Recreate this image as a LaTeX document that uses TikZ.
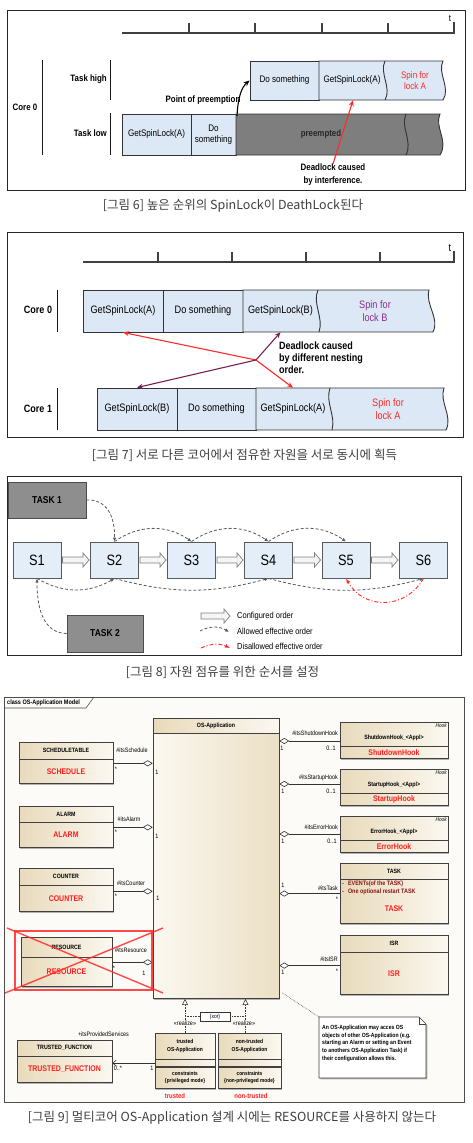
\documentclass[tikz,border=0pt]{standalone}
\usepackage{fontspec}
\setmainfont{Liberation Sans}
\newfontfamily\cond[FakeStretch=0.85]{Liberation Sans}
\newfontfamily\kr{Noto Sans CJK KR}
\usetikzlibrary{arrows.meta,positioning,calc,shadows}

\definecolor{boxblue}{HTML}{DCE8F5}
\definecolor{stateblue}{HTML}{E3EEF9}
\definecolor{preemptgray}{HTML}{7E7E7E}
\definecolor{taskgray}{HTML}{8E8E8E}
\definecolor{lockred}{HTML}{FF2A2A}
\definecolor{lockpurple}{HTML}{8A2C8E}
\definecolor{arrowpurple}{HTML}{7A2050}
\definecolor{tanA}{HTML}{E8DABB}
\definecolor{tanB}{HTML}{FBF8F0}
\definecolor{umlred}{HTML}{FF1F1F}
\definecolor{itemred}{HTML}{8C1616}
\definecolor{capgray}{HTML}{404040}
\definecolor{bgnine}{HTML}{FCFBF8}

\tikzset{
  frame/.style={draw=black!85, line width=0.8pt},
  axis/.style={draw=black!75, line width=1.1pt},
  bar/.style={draw=black!90, line width=1pt},
  figcap/.style={font=\kr\fontsize{12.5}{14}\selectfont, text=capgray, inner sep=0pt},
  lblsix/.style={font=\cond\bfseries\fontsize{9.3}{11}\selectfont, inner sep=0pt},
  txtsix/.style={font=\cond\fontsize{9.5}{11.5}\selectfont, inner sep=0pt, align=center},
  lblseven/.style={font=\cond\bfseries\fontsize{10.6}{12}\selectfont, inner sep=0pt},
  txtseven/.style={font=\cond\fontsize{10.8}{12.5}\selectfont, inner sep=0pt, align=center},
  slot/.style={draw=black!80, fill=boxblue, line width=0.9pt, inner sep=0pt, align=center},
  slotline/.style={draw=black!80, line width=0.9pt},
  redarrow/.style={draw=lockred, line width=1.1pt, -{Stealth[length=6pt,width=5pt]}},
  purplearrow/.style={draw=arrowpurple, line width=1.1pt, -{Stealth[length=6pt,width=5pt]}},
  blackarrow/.style={draw=black, line width=1.1pt, -{Stealth[length=6pt,width=5pt]}},
  sbox/.style={draw=black!65, fill=stateblue, line width=0.9pt, minimum width=48pt, minimum height=36pt, inner sep=0pt, font=\cond\fontsize{15}{18}\selectfont},
  taskbox/.style={draw=black!70, fill=taskgray, line width=0.9pt, inner sep=0pt, font=\cond\bfseries\fontsize{10}{12}\selectfont},
  cfg/.style={draw=black!50, fill=black!4, line width=0.7pt, to path={($(\tikztostart)+(1,-3)$) -- ($(\tikztotarget)+(-7,-3)$) -- ($(\tikztotarget)+(-7,-7)$) -- ($(\tikztotarget)+(-1,0)$) -- ($(\tikztotarget)+(-7,7)$) -- ($(\tikztotarget)+(-7,3)$) -- ($(\tikztostart)+(1,3)$) -- cycle}},
  allowed/.style={draw=black!65, line width=0.8pt, dash pattern=on 3pt off 2pt, -{Latex[length=4pt,width=3.5pt]}},
  disallowed/.style={draw=lockred, line width=0.9pt, dash pattern=on 4pt off 2pt on 1pt off 2pt, -{Latex[length=5pt,width=4pt]}},
  legendtxt/.style={font=\cond\fontsize{8.8}{10}\selectfont, inner sep=0pt, anchor=west},
  cls/.style={draw=black!75, line width=0.6pt, left color=tanA, right color=tanB, drop shadow={shadow xshift=1.3pt, shadow yshift=-1.3pt, opacity=0.6}, inner sep=1pt, align=center, font=\cond\bfseries\fontsize{6.2}{7.2}\selectfont},
  clsbody/.style={cls, text=umlred, font=\cond\bfseries\fontsize{8.2}{9.6}\selectfont},
  hookhdr/.style={cls, minimum width=108pt, minimum height=24pt, text height=12pt, text depth=1pt},
  hooktag/.style={font=\cond\itshape\fontsize{5.5}{6}\selectfont, inner sep=1.5pt, anchor=north east},
  agg/.style={draw=black!80, line width=0.6pt, -{Diamond[length=10pt,width=6pt,fill=white]}},
  mult/.style={font=\cond\fontsize{6.4}{7}\selectfont, inner sep=0pt},
  realize/.style={draw=black!80, line width=0.6pt, densely dotted, -{Triangle[length=6pt,width=6pt,fill=white]}},
  rlz/.style={mult, fill=bgnine, inner sep=0.8pt},
  dotlink/.style={draw=black!75, line width=0.6pt, densely dotted},
  svc/.style={draw=black!80, line width=0.6pt, -{Straight Barb[length=3.5pt,width=6pt]}},
  notebox/.style={draw=black!75, line width=0.6pt, fill=white, drop shadow={shadow xshift=1.3pt, shadow yshift=-1.3pt, opacity=0.6}},
  notetxt/.style={font=\cond\bfseries\fontsize{6}{7.7}\selectfont, align=left, inner sep=0pt, anchor=north west},
  flagtxt/.style={font=\cond\bfseries\fontsize{7}{8}\selectfont, text=umlred, inner sep=0pt},
  strike/.style={draw=lockred, line width=1.4pt, opacity=0.85},
  xorbox/.style={draw=black!80, fill=white, line width=0.6pt, minimum width=30pt, minimum height=9pt, inner sep=0pt, font=\cond\fontsize{5.8}{6}\selectfont, drop shadow={shadow xshift=1pt, shadow yshift=-1pt, opacity=0.6}}
}

\begin{document}
\begin{tikzpicture}[x=1pt,y=-1pt]
  \useasboundingbox (0,0) rectangle (472,1143);
  \fill[white] (0,0) rectangle (472,1143);

  \draw[frame] (7,10) rectangle (465,190);
  \draw[axis] (122,33) -- (454,33) -- (454,22);
  \draw[axis] (189,33) -- (189,23) (255,33) -- (255,23) (322,33) -- (322,23) (388,33) -- (388,23);
  \node[txtsix] (tsix) at (450,18) {t};
  \node[lblsix] (coresix) at (25,107) {Core 0};
  \draw[bar] (42,60) -- (42,155);
  \node[lblsix, anchor=east] (high) at (107,79) {Task high};
  \draw[bar] (110,60) -- (110,100);
  \node[lblsix, anchor=east] (low) at (107,133) {Task low};
  \draw[bar] (110,113) -- (110,155);
  \node[slot, txtsix, minimum width=69pt, minimum height=41pt] (lowget) at (156.5,134.5) {GetSpinLock(A)};
  \node[slot, txtsix, minimum width=45pt, minimum height=41pt] (lowdo) at (213.5,134.5) {Do\\something};
  \filldraw[slotline, fill=preemptgray] (236,114) -- (440,114) .. controls (434,127) and (449,141) .. (440,155) -- (236,155) -- cycle;
  \draw[slotline] (406,114) .. controls (400,127) and (413,141) .. (406,155);
  \node[txtsix, font=\cond\bfseries\fontsize{9.3}{11}\selectfont, text=black!85] (preempted) at (321,134.5) {preempted};
  \node[slot, txtsix, minimum width=69pt, minimum height=39pt] (highdo) at (284.5,80.5) {Do something};
  \filldraw[slotline, fill=boxblue] (319,61) -- (443,61) .. controls (437,73) and (451,88) .. (443,100) -- (319,100) -- cycle;
  \draw[slotline] (385,61) .. controls (379,73) and (392,88) .. (385,100);
  \node[txtsix, minimum height=39pt] (highget) at (352,80.5) {GetSpinLock(A)};
  \node[txtsix, text=lockred] (highspin) at (415,80.5) {Spin for\\lock A};
  \node[lblsix] (ppoint) at (203,100) {Point of preemption};
  \coordinate (ppstart) at (237,116);
  \draw[blackarrow] (ppstart) .. controls (238,96) and (242,87) .. (highdo.west);
  \node[lblsix, align=center, font=\cond\bfseries\fontsize{9.3}{13}\selectfont] (dlsix) at (333,175) {Deadlock caused\\by interference.};
  \draw[redarrow] (dlsix.north) -- ([xshift=1pt]highget.south);
  \node[figcap] (capsix) at (233,206) {[그림 6] 높은 순위의 SpinLock이 DeathLock된다};

  \draw[frame] (7,232) rectangle (463,437);
  \draw[axis] (83,262) -- (454,262) -- (454,251);
  \draw[axis] (158,262) -- (158,252) (232,262) -- (232,252) (306,262) -- (306,252) (380,262) -- (380,252);
  \node[txtseven] (tseven) at (450,248) {t};
  \node[lblseven] (corea) at (38,310) {Core 0};
  \draw[bar] (57,290) -- (57,332);
  \node[lblseven] (coreb) at (38,409) {Core 1};
  \draw[bar] (57,388) -- (57,430);
  \node[slot, txtseven, minimum width=80pt, minimum height=42pt] (aget) at (123,311) {GetSpinLock(A)};
  \node[slot, txtseven, minimum width=80pt, minimum height=42pt] (ado) at (203,311) {Do something};
  \filldraw[slotline, fill=boxblue] (243,290) -- (429,290) .. controls (425,305) and (440,318) .. (433,332) -- (243,332) -- cycle;
  \draw[slotline] (318,290) .. controls (312,303) and (324,318) .. (319,332);
  \node[txtseven, minimum height=42pt] (alock) at (280.5,311) {GetSpinLock(B)};
  \node[txtseven, text=lockpurple] (aspin) at (375,311) {Spin for\\lock B};
  \node[slot, txtseven, minimum width=80pt, minimum height=42pt] (bget) at (137,409) {GetSpinLock(B)};
  \node[slot, txtseven, minimum width=79pt, minimum height=42pt] (bdo) at (216.5,409) {Do something};
  \filldraw[slotline, fill=boxblue] (256,388) -- (444,388) .. controls (439,402) and (453,416) .. (446,430) -- (256,430) -- cycle;
  \draw[slotline] (330,388) .. controls (325,402) and (336,416) .. (332,430);
  \node[txtseven, minimum height=42pt] (block) at (293,409) {GetSpinLock(A)};
  \node[txtseven, text=lockred] (bspin) at (388,409) {Spin for\\lock A};
  \coordinate (meet) at (256,360);
  \draw[redarrow] (meet) -- (aget.south);
  \draw[redarrow] (meet) -- (block.north);
  \draw[purplearrow] (meet) -- (alock.south);
  \draw[purplearrow] (meet) -- (bget.north);
  \node[lblseven, align=left, anchor=north west] (dlseven) at (279,342) {Deadlock caused\\by different nesting\\order.};
  \node[figcap] (capseven) at (244.5,455) {[그림 7] 서로 다른 코어에서 점유한 자원을 서로 동시에 획득};

  \draw[frame] (7,476) rectangle (461,655);
  \node[taskbox, minimum width=78pt, minimum height=36pt] (taska) at (47,500) {TASK 1};
  \node[taskbox, minimum width=76pt, minimum height=37pt] (taskb) at (105,633.5) {TASK 2};
  \node[sbox] (s1) at (37,560) {S1};
  \node[sbox] (s2) at (114.5,560) {S2};
  \node[sbox] (s3) at (191.5,560) {S3};
  \node[sbox] (s4) at (268.5,560) {S4};
  \node[sbox] (s5) at (346,560) {S5};
  \node[sbox] (s6) at (423.5,560) {S6};
  \filldraw[cfg] (s1.east) to (s2.west);
  \filldraw[cfg] (s2.east) to (s3.west);
  \filldraw[cfg] (s3.east) to (s4.west);
  \filldraw[cfg] (s4.east) to (s5.west);
  \filldraw[cfg] (s5.east) to (s6.west);
  \draw[allowed] (taska.east) .. controls (106,499) and (115,515) .. (s2.north);
  \draw[allowed] (s2.north) to[bend left=35] (s3.north);
  \draw[allowed] (s3.north) to[bend left=35] (s4.north);
  \draw[allowed] (s4.north) to[bend left=35] (s5.north);
  \draw[allowed] (taskb.west) .. controls (45,633) and (37,612) .. (s1.south);
  \draw[allowed] (s1.south) to[bend right=30] (s2.south);
  \draw[allowed] (s2.south) to[bend right=15] (s4.south);
  \draw[allowed] (s4.south) to[bend right=15] (s6.south);
  \draw[disallowed] (s6.south) to[bend left=60, looseness=1.2] (s5.south);
  \coordinate (lgca) at (200,616);
  \coordinate (lgcb) at (231,616);
  \filldraw[cfg] (lgca) to (lgcb);
  \coordinate (lgaa) at (200,631);
  \coordinate (lgab) at (229,632);
  \draw[allowed] (lgaa) to[bend left=30] (lgab);
  \coordinate (lgda) at (201,648);
  \coordinate (lgdb) at (230,648);
  \draw[disallowed] (lgda) to[bend left=25] (lgdb);
  \node[legendtxt] (lgc) at (237,616) {Configured order};
  \node[legendtxt] (lga) at (237,631) {Allowed effective order};
  \node[legendtxt] (lgd) at (237,646) {Disallowed effective order};
  \node[figcap] (capeight) at (222.5,672) {[그림 8] 자원 점유를 위한 순서를 설정};

  \draw[frame, fill=bgnine, draw=black!70] (4,697) rectangle (464,1102);
  \draw[draw=black!70, line width=0.6pt] (4,708) -- (86,708) -- (94,697);
  \node[font=\cond\bfseries\fontsize{6.5}{7}\selectfont, anchor=west, inner sep=0pt] (title) at (7,703) {class OS-Application Model};

  \node[cls, minimum width=126pt, minimum height=15pt] (osh) at (216,725.5) {OS-Application};
  \node[cls, left color=tanB, right color=tanA!85!white, minimum width=126pt, minimum height=265pt, below=0pt of osh] (os) {};

  \node[cls, minimum width=94pt, minimum height=17pt] (schh) at (66,750.5) {SCHEDULETABLE};
  \node[clsbody, minimum width=94pt, minimum height=24pt, below=0pt of schh] (schb) {SCHEDULE};
  \node[cls, minimum width=94pt, minimum height=16pt] (alah) at (66,814) {ALARM};
  \node[clsbody, minimum width=94pt, minimum height=25pt, below=0pt of alah] (alab) {ALARM};
  \node[cls, minimum width=94pt, minimum height=17pt] (couh) at (66,876.5) {COUNTER};
  \node[clsbody, minimum width=94pt, minimum height=26pt, below=0pt of couh] (coub) {COUNTER};
  \node[cls, minimum width=91pt, minimum height=20pt] (resh) at (66.5,947) {RESOURCE};
  \node[clsbody, minimum width=91pt, minimum height=29pt, below=0pt of resh] (resb) {RESOURCE};
  \node[cls, minimum width=95pt, minimum height=16pt] (tfh) at (64.5,1048) {TRUSTED\_FUNCTION};
  \node[clsbody, minimum width=95pt, minimum height=26pt, below=0pt of tfh] (tfb) {TRUSTED\_FUNCTION};

  \node[hookhdr] (shdh) at (394,734) {ShutdownHook\_<Appl>};
  \node[clsbody, minimum width=108pt, minimum height=12pt, below=0pt of shdh] (shdb) {ShutdownHook};
  \node[hooktag] (shdk) at (shdh.north east) {Hook};
  \node[hookhdr] (stuh) at (394,781) {StartupHook\_<Appl>};
  \node[clsbody, minimum width=108pt, minimum height=12pt, below=0pt of stuh] (stub) {StartupHook};
  \node[hooktag] (stuk) at (stuh.north east) {Hook};
  \node[hookhdr] (errh) at (394,828) {ErrorHook\_<Appl>};
  \node[clsbody, minimum width=108pt, minimum height=12pt, below=0pt of errh] (errb) {ErrorHook};
  \node[hooktag] (errk) at (errh.north east) {Hook};
  \node[cls, minimum width=108pt, minimum height=16pt] (taskh) at (394,871) {TASK};
  \node[cls, minimum width=108pt, minimum height=44pt, below=0pt of taskh] (taskbd) {};
  \node[notetxt, text=itemred, font=\cond\bfseries\fontsize{6.4}{8}\selectfont] (taskit) at (342,881) {-\hspace{4pt}EVENTs(of the TASK)\\-\hspace{4pt}One optional restart TASK};
  \node[flagtxt, font=\cond\bfseries\fontsize{8.2}{9.6}\selectfont] (taskr) at (394,909) {TASK};
  \node[cls, minimum width=108pt, minimum height=17pt] (isrh) at (394,943.5) {ISR};
  \node[clsbody, minimum width=108pt, minimum height=42pt, below=0pt of isrh] (isrb) {ISR};

  \draw[agg] ([yshift=-4pt]schh.south east) coordinate (la) -- (la -| os.west);
  \draw[agg] ([yshift=-5pt]alah.south east) coordinate (lb) -- (lb -| os.west);
  \draw[agg] ([yshift=-6pt]couh.south east) coordinate (lc) -- (lc -| os.west);
  \draw[agg] ([yshift=-5pt]resh.south east) coordinate (ld) -- (ld -| os.west);
  \draw[agg] ([yshift=-7pt]shdh.west) coordinate (ra) -- (ra -| os.east);
  \draw[agg] ([yshift=-3pt]stuh.west) coordinate (rb) -- (rb -| os.east);
  \draw[agg] ([yshift=-6pt]errh.west) coordinate (rc) -- (rc -| os.east);
  \draw[agg] ([yshift=8pt]taskbd.west) coordinate (rd) -- (rd -| os.east);
  \draw[agg] ([yshift=8pt]isrb.west) coordinate (re) -- (re -| os.east);

  \node[mult] (lan) at (132,750) {\#itsSchedule};
  \node[mult] (las) at (116,769) {*};
  \node[mult] (lao) at (157,772) {1};
  \node[mult] (lbn) at (129,819) {\#itsAlarm};
  \node[mult] (lbs) at (116,832) {*};
  \node[mult] (lbo) at (157,836) {1};
  \node[mult] (lcn) at (131,883) {\#itsCounter};
  \node[mult] (lcs) at (116,896) {*};
  \node[mult] (lco) at (158,898) {1};
  \node[mult] (ldn) at (131,950) {\#itsResource};
  \node[mult] (lds) at (114,968) {*};
  \node[mult] (ldo) at (144,973) {1};
  \node[mult, anchor=east] (ran) at (338,733) {\#itsShutdownHook};
  \node[mult] (rao) at (282,748) {1};
  \node[mult] (ram) at (331,748) {0..1};
  \node[mult, anchor=east] (rbn) at (338,778) {\#itsStartupHook};
  \node[mult] (rbo) at (283,791) {1};
  \node[mult] (rbm) at (331,791) {0..1};
  \node[mult, anchor=east] (rcn) at (338,827) {\#itsErrorHook};
  \node[mult] (rco) at (283,841) {1};
  \node[mult] (rcm) at (332,841) {0..1};
  \node[mult, anchor=east] (rdn) at (338,888) {\#itsTask};
  \node[mult] (rdo) at (283,885) {1};
  \node[mult] (rds) at (337,899) {*};
  \node[mult, anchor=east] (ren) at (338,959) {\#itsISR};
  \node[mult] (reo) at (283,972) {1};
  \node[mult] (res) at (337,971) {*};

  \draw[strike] (15,931) rectangle (152,990);
  \draw[strike] (7,928) -- (163,993);
  \draw[strike] (163,928) -- (5,993);

  \node[cls, minimum width=60pt, minimum height=26pt, font=\cond\bfseries\fontsize{5.8}{7.5}\selectfont] (trh) at (185,1046) {trusted\\OS-Application};
  \node[cls, minimum width=60pt, minimum height=7pt, below=0pt of trh] (trm) {};
  \node[cls, minimum width=60pt, minimum height=21pt, below=0pt of trm, font=\cond\bfseries\fontsize{5.6}{7}\selectfont] (trc) {constraints\\\{privileged mode\}};
  \node[cls, minimum width=63pt, minimum height=26pt, font=\cond\bfseries\fontsize{5.8}{7.5}\selectfont] (nth) at (249.5,1046) {non-trusted\\OS-Application};
  \node[cls, minimum width=63pt, minimum height=7pt, below=0pt of nth] (ntm) {};
  \node[cls, minimum width=63pt, minimum height=21pt, below=0pt of ntm, font=\cond\bfseries\fontsize{5.6}{7}\selectfont] (ntc) {constraints\\\{non-privileged mode\}};
  \node[flagtxt] (trf) at (175,1096) {trusted};
  \node[flagtxt] (ntf) at (251,1096) {non-trusted};

  \draw[realize] (trh.north) -- (trh.north |- os.south);
  \draw[realize] ([xshift=-4pt]nth.north) coordinate (nr) -- (nr |- os.south);
  \node[xorbox] (xor) at (215,1016.5) {\{xor\}};
  \draw[dotlink] (trh.north |- xor.west) -- (xor.west);
  \draw[dotlink] (xor.east) -- (nr |- xor.east);
  \node[rlz] (rza) at (185,1023) {«realize»};
  \node[rlz] (rzb) at (244,1023) {«realize»};

  \draw[svc] (trm.west) -- (trm.west -| tfb.east);
  \node[mult] (tfn) at (103.5,1034) {+itsProvidedServices};
  \node[mult] (tfm) at (118,1068) {0..*};
  \node[mult] (tfo) at (152,1068) {1};

  \filldraw[notebox] (319,1017) -- (419,1017) -- (426,1024) -- (426,1078) -- (319,1078) -- cycle;
  \draw[draw=black!75, line width=0.6pt] (419,1017) -- (419,1024) -- (426,1024);
  \node[notetxt] (note) at (322,1025) {An OS-Application may acces OS\\objects of other OS-Application (e.g.\\starting an Alarm or setting an Event\\to anothers OS-Application Task) if\\their configuration allows this.};
  \coordinate (notecorner) at (319,1017);
  \draw[dotlink] ([xshift=3pt,yshift=6pt]os.south east) -- (notecorner);

  \node[figcap] (capnine) at (232,1118) {[그림 9] 멀티코어 OS-Application 설계 시에는 RESOURCE를 사용하지 않는다};
\end{tikzpicture}
\end{document}
